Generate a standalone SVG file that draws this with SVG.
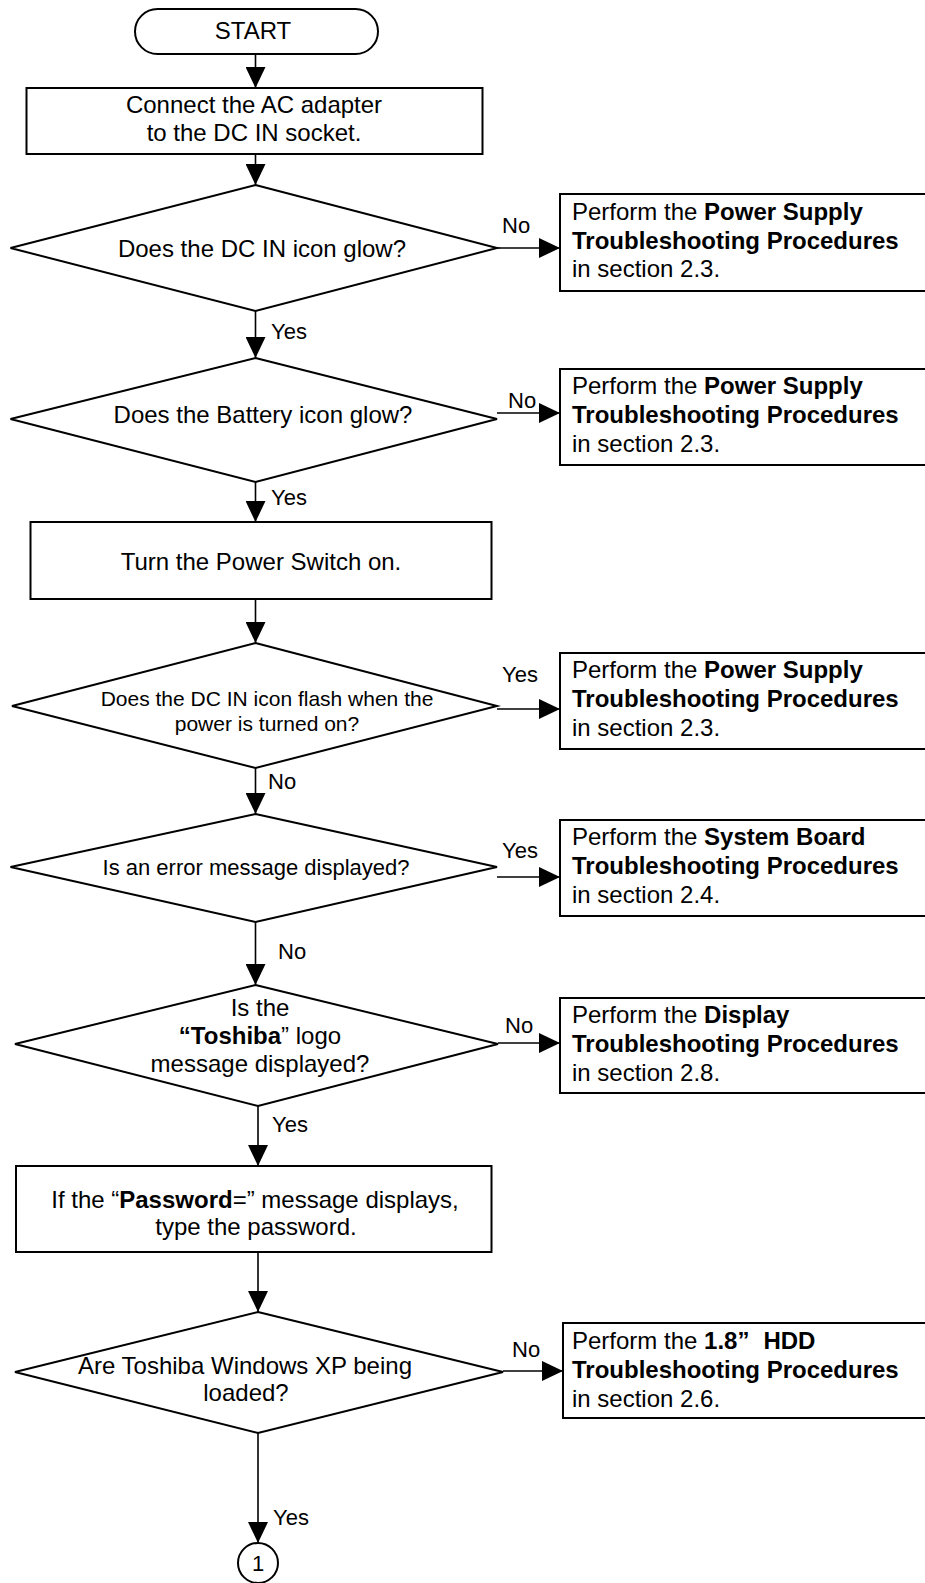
<svg xmlns="http://www.w3.org/2000/svg" width="925" height="1583" viewBox="0 0 925 1583">
<style>
  .shape { fill: #ffffff; stroke: #000000; stroke-width: 2; }
  .conn { fill: none; stroke: #000000; stroke-width: 1.6; marker-end: url(#arrow); }
  text { font-family: "Liberation Sans", Arial, sans-serif; fill: #000000; }
  .t24 { font-size: 24px; }
  .t22 { font-size: 22px; }
  .t21 { font-size: 21px; }
  .lbl { font-size: 22px; }
  .mid { text-anchor: middle; }
  .b { font-weight: bold; }
</style>
<defs>
  <marker id="arrow" markerUnits="userSpaceOnUse" markerWidth="21" markerHeight="20" refX="21" refY="10" orient="auto">
    <path d="M0,0 L21,10 L0,20 z" fill="#000000"/>
  </marker>
</defs>
<rect width="925" height="1583" fill="#ffffff"/>

<g id="connectors">
  <line class="conn" x1="255.5" y1="54" x2="255.5" y2="88"/>
  <line class="conn" x1="255.5" y1="154" x2="255.5" y2="185"/>
  <line class="conn" x1="497" y1="248" x2="560" y2="248"/>
  <line class="conn" x1="255.5" y1="311" x2="255.5" y2="358"/>
  <line class="conn" x1="497" y1="413" x2="560" y2="413"/>
  <line class="conn" x1="255.5" y1="476" x2="255.5" y2="522"/>
  <line class="conn" x1="255.5" y1="599" x2="255.5" y2="643"/>
  <line class="conn" x1="497" y1="709" x2="560" y2="709"/>
  <line class="conn" x1="255.5" y1="768" x2="255.5" y2="814"/>
  <line class="conn" x1="497" y1="877" x2="560" y2="877"/>
  <line class="conn" x1="255.5" y1="922" x2="255.5" y2="985"/>
  <line class="conn" x1="498" y1="1043" x2="560" y2="1043"/>
  <line class="conn" x1="258" y1="1106" x2="258" y2="1166"/>
  <line class="conn" x1="258" y1="1252" x2="258" y2="1312"/>
  <line class="conn" x1="503" y1="1371" x2="563" y2="1371"/>
  <line class="conn" x1="258" y1="1433" x2="258" y2="1543"/>
  <text class="lbl" x="502" y="233">No</text>
  <text class="lbl" x="271" y="339">Yes</text>
  <text class="lbl" x="508" y="408">No</text>
  <text class="lbl" x="271" y="505">Yes</text>
  <text class="lbl" x="502" y="682">Yes</text>
  <text class="lbl" x="268" y="789">No</text>
  <text class="lbl" x="502" y="858">Yes</text>
  <text class="lbl" x="278" y="959">No</text>
  <text class="lbl" x="505" y="1033">No</text>
  <text class="lbl" x="272" y="1132">Yes</text>
  <text class="lbl" x="512" y="1357">No</text>
  <text class="lbl" x="273" y="1525">Yes</text>
</g>

<g id="start">
  <rect class="shape" x="135" y="9" width="243" height="45" rx="22.5" ry="22.5"/>
  <text class="t24 mid" x="253" y="39">START</text>
</g>

<g id="connect-ac">
  <rect class="shape" x="26.5" y="88" width="456" height="66"/>
  <text class="t24 mid" x="254" y="113">Connect the AC adapter</text>
  <text class="t24 mid" x="254" y="141">to the DC IN socket.</text>
</g>

<g id="dcin-glow">
  <polygon class="shape" points="255.5,185 497,248 255.5,311 10.5,248"/>
  <text class="t24 mid" x="262" y="256.5">Does the DC IN icon glow?</text>
</g>

<g id="ps1">
  <rect class="shape" x="560" y="194" width="400" height="97"/>
  <text class="t24" x="572" y="220">Perform the <tspan class="b">Power Supply</tspan></text>
  <text class="t24 b" x="572" y="249">Troubleshooting Procedures</text>
  <text class="t24" x="572" y="277">in section 2.3.</text>
</g>

<g id="battery-glow">
  <polygon class="shape" points="255.5,358 497,419 255.5,482 10.5,419"/>
  <text class="t24 mid" x="263" y="422.5">Does the Battery icon glow?</text>
</g>

<g id="ps2">
  <rect class="shape" x="560" y="369" width="400" height="96"/>
  <text class="t24" x="572" y="394">Perform the <tspan class="b">Power Supply</tspan></text>
  <text class="t24 b" x="572" y="423">Troubleshooting Procedures</text>
  <text class="t24" x="572" y="452">in section 2.3.</text>
</g>

<g id="power-on">
  <rect class="shape" x="30.5" y="522" width="461" height="77"/>
  <text class="t24 mid" x="261" y="569.5">Turn the Power Switch on.</text>
</g>

<g id="dcin-flash">
  <polygon class="shape" points="255.5,643 497,706 255.5,768 12,706"/>
  <text class="t21 mid" x="267" y="706">Does the DC IN icon flash when the</text>
  <text class="t21 mid" x="267" y="731">power is turned on?</text>
</g>

<g id="ps3">
  <rect class="shape" x="560" y="653" width="400" height="96"/>
  <text class="t24" x="572" y="678">Perform the <tspan class="b">Power Supply</tspan></text>
  <text class="t24 b" x="572" y="707">Troubleshooting Procedures</text>
  <text class="t24" x="572" y="736">in section 2.3.</text>
</g>

<g id="error-msg">
  <polygon class="shape" points="255.5,814 497,867 255.5,922 10.5,867"/>
  <text class="t22 mid" x="256" y="875">Is an error message displayed?</text>
</g>

<g id="sysboard">
  <rect class="shape" x="560" y="820" width="400" height="96"/>
  <text class="t24" x="572" y="845">Perform the <tspan class="b">System Board</tspan></text>
  <text class="t24 b" x="572" y="874">Troubleshooting Procedures</text>
  <text class="t24" x="572" y="903">in section 2.4.</text>
</g>

<g id="toshiba-logo">
  <polygon class="shape" points="255.5,985 498,1044 258,1106 15,1044"/>
  <text class="t24 mid" x="260" y="1015.5">Is the</text>
  <text class="t24 mid" x="260" y="1043.5"><tspan class="b">“Toshiba</tspan>” logo</text>
  <text class="t24 mid" x="260" y="1071.5">message displayed?</text>
</g>

<g id="display">
  <rect class="shape" x="560" y="998" width="400" height="95"/>
  <text class="t24" x="572" y="1023">Perform the <tspan class="b">Display</tspan></text>
  <text class="t24 b" x="572" y="1052">Troubleshooting Procedures</text>
  <text class="t24" x="572" y="1081">in section 2.8.</text>
</g>

<g id="password">
  <rect class="shape" x="16" y="1166" width="475.5" height="86"/>
  <text class="t24 mid" x="255" y="1208">If the “<tspan class="b">Password</tspan>=” message displays,</text>
  <text class="t24 mid" x="256" y="1235">type the password.</text>
</g>

<g id="windows-loaded">
  <polygon class="shape" points="258,1312 503,1372 258,1433 15,1372"/>
  <text class="t24 mid" x="245" y="1373.5">Are Toshiba Windows XP being</text>
  <text class="t24 mid" x="246" y="1400.5">loaded?</text>
</g>

<g id="hdd">
  <rect class="shape" x="563" y="1323" width="400" height="95"/>
  <text class="t24" x="572" y="1349">Perform the <tspan class="b">1.8”</tspan><tspan class="b" dx="14">HDD</tspan></text>
  <text class="t24 b" x="572" y="1378">Troubleshooting Procedures</text>
  <text class="t24" x="572" y="1407">in section 2.6.</text>
</g>

<g id="connector-1">
  <circle class="shape" cx="258" cy="1563" r="20"/>
  <text class="t22 mid" x="258" y="1571">1</text>
</g>
</svg>
